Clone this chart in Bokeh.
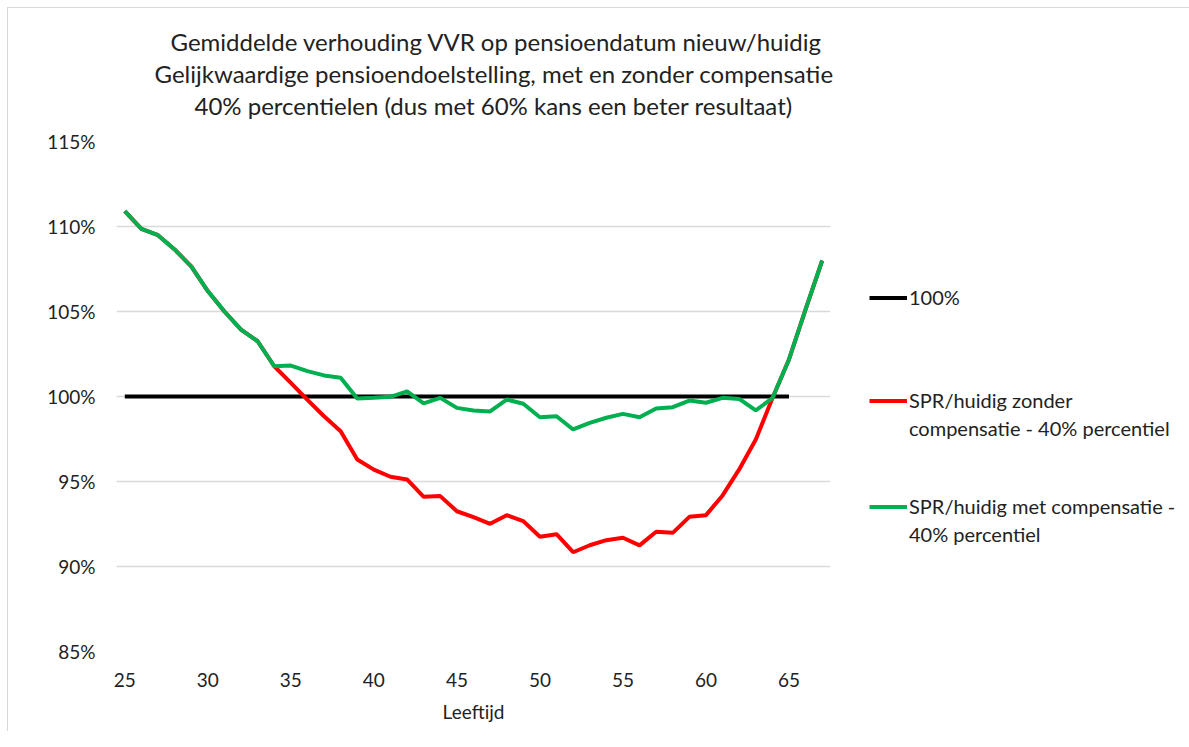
from bokeh.plotting import figure
from bokeh.models import (ColumnDataSource, PrintfTickFormatter, FixedTicker, Title,
                          Legend, LegendItem, Range1d)
from bokeh.embed import file_html
from bokeh.resources import INLINE

# ---- data ----
ages = [25, 26, 27, 28, 29, 30, 31, 32, 33, 34, 35, 36, 37, 38, 39, 40, 41, 42, 43, 44, 45,
        46, 47, 48, 49, 50, 51, 52, 53, 54, 55, 56, 57, 58, 59, 60, 61, 62, 63, 64, 65, 66, 67]
met_comp = [110.9, 109.86, 109.49, 108.65, 107.66, 106.2, 105.0, 103.94, 103.25, 101.78,
            101.82, 101.49, 101.24, 101.1, 99.88, 99.92, 99.98, 100.3, 99.59, 99.92, 99.33,
            99.18, 99.12, 99.82, 99.57, 98.78, 98.84, 98.06, 98.45, 98.75, 98.98, 98.78,
            99.29, 99.37, 99.76, 99.63, 99.92, 99.86, 99.18, 99.9, 102.18, 105.12, 108.0]
zonder_comp = [110.9, 109.86, 109.49, 108.65, 107.66, 106.2, 105.0, 103.94, 103.25, 101.78,
               100.8, 99.8, 98.84, 97.95, 96.29, 95.7, 95.28, 95.12, 94.1, 94.14, 93.25,
               92.9, 92.51, 93.02, 92.67, 91.75, 91.9, 90.84, 91.25, 91.55, 91.69, 91.24,
               92.04, 91.98, 92.92, 93.02, 94.18, 95.71, 97.47, 99.9, 102.18, 105.12, 108.0]
ref_ages = [25, 26, 27, 28, 29, 30, 31, 32, 33, 34, 35, 36, 37, 38, 39, 40, 41, 42, 43, 44, 45,
            46, 47, 48, 49, 50, 51, 52, 53, 54, 55, 56, 57, 58, 59, 60, 61, 62, 63, 64, 65]
ref_vals = [100, 100, 100, 100, 100, 100, 100, 100, 100, 100, 100, 100, 100, 100, 100, 100,
            100, 100, 100, 100, 100, 100, 100, 100, 100, 100, 100, 100, 100, 100, 100, 100,
            100, 100, 100, 100, 100, 100, 100, 100, 100]
x_ticks = [25, 30, 35, 40, 45, 50, 55, 60, 65]
y_ticks = [85, 90, 95, 100, 105, 110, 115]
title_lines = ["Gemiddelde verhouding VVR op pensioendatum nieuw/huidig",
               "Gelijkwaardige pensioendoelstelling, met en zonder compensatie",
               "40% percentielen (dus met 60% kans een beter resultaat)"]
x_title = "Leeftijd"
name_ref = "100%"
name_red = ["SPR/huidig zonder", "compensatie - 40% percentiel"]
name_green = ["SPR/huidig met compensatie -", "40% percentiel"]

FONT = "Lato"
TXT = "#222222"

src = ColumnDataSource(dict(x=ages, met=met_comp, zonder=zonder_comp))
src_ref = ColumnDataSource(dict(x=ref_ages, y=ref_vals))

p = figure(frame_width=714, frame_height=510,
           x_range=Range1d(24.5, 67.5), y_range=Range1d(85, 115),
           output_backend="svg", toolbar_location=None, title=title_lines[0],
           min_border_left=108, min_border_top=133, min_border_right=342, min_border_bottom=80)
p.styles = {"margin-left": "7px", "margin-top": "7px",
            "border-left": "1px solid #d9d9d9", "border-top": "1px solid #d9d9d9"}
p.outline_line_color = None
p.background_fill_color = "white"
p.border_fill_color = "white"

r_ref = p.line("x", "y", source=src_ref, line_color="#000000", line_width=4)
r_red = p.line("x", "zonder", source=src, line_color="#FF0000", line_width=4)
r_green = p.line("x", "met", source=src, line_color="#00B050", line_width=4)
dummy = p.line(x=[], y=[], line_alpha=0)

# axes
p.xaxis.ticker = FixedTicker(ticks=x_ticks)
p.yaxis.ticker = FixedTicker(ticks=y_ticks)
p.yaxis.formatter = PrintfTickFormatter(format="%d%%")
for ax in (p.xaxis[0], p.yaxis[0]):
    ax.axis_line_color = None
    ax.major_tick_line_color = None
    ax.minor_tick_line_color = None
    ax.major_label_text_font = FONT
    ax.major_label_text_font_size = "19px"
    ax.major_label_text_color = TXT
p.yaxis.major_label_standoff = 15
p.xaxis.major_label_standoff = 15
p.xaxis.axis_label = x_title
p.xaxis.axis_label_text_font = FONT
p.xaxis.axis_label_text_font_size = "19px"
p.xaxis.axis_label_text_font_style = "normal"
p.xaxis.axis_label_text_color = TXT
p.xaxis.axis_label_standoff = 10

p.xgrid.grid_line_color = None
p.ygrid.grid_line_color = "#d9d9d9"
p.ygrid.grid_line_width = 1.3

# title: three lines (a thin spacer nearest the plot, main title outermost)
def style_title(t, offset, standoff, size="24px"):
    t.align = "left"
    t.offset = offset
    t.text_font = FONT
    t.text_font_size = size
    t.text_font_style = "normal"
    t.text_color = TXT
    t.standoff = standoff

style_title(p.title, 54, 1)
spacer = Title(text=" ")
style_title(spacer, 0, 19, size="1px")
p.add_layout(spacer, "above")
t3 = Title(text=title_lines[2])
style_title(t3, 78, 0)
p.add_layout(t3, "above")
t2 = Title(text=title_lines[1])
style_title(t2, 38, 1)
p.add_layout(t2, "above")

# legend in the right-hand panel; blank rows keep the Excel-like spacing
items = [LegendItem(label=name_ref, renderers=[r_ref]),
         LegendItem(label=" ", renderers=[dummy]),
         LegendItem(label=" ", renderers=[dummy]),
         LegendItem(label=" ", renderers=[dummy]),
         LegendItem(label=name_red[0], renderers=[r_red]),
         LegendItem(label=name_red[1], renderers=[dummy]),
         LegendItem(label=" ", renderers=[dummy]),
         LegendItem(label=" ", renderers=[dummy]),
         LegendItem(label=name_green[0], renderers=[r_green]),
         LegendItem(label=name_green[1], renderers=[dummy])]
leg = Legend(items=items, location=(39, 105), glyph_width=38, glyph_height=21,
             label_height=21, label_width=10, spacing=4, label_standoff=2, padding=0,
             margin=0, border_line_alpha=0, background_fill_alpha=0,
             label_text_font=FONT, label_text_font_size="20px", label_text_color=TXT)
p.add_layout(leg, "right")

open("out.html", "w").write(file_html(p, INLINE))
